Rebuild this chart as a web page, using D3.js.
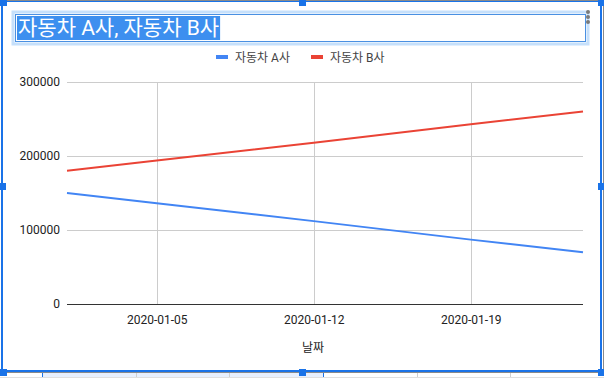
<!DOCTYPE html>
<html>
<head>
<meta charset="utf-8">
<script src="https://d3js.org/d3.v7.min.js"></script>
<style>
  body { margin: 0; background: #fff; }
  svg { display: block; font-family: Roboto, "Noto Sans CJK KR", sans-serif; }
</style>
</head>
<body>
<svg id="chart"></svg>
<script>
const width = 604;
const height = 378;

// data
const dates = ["2020-01-01", "2020-01-05", "2020-01-12", "2020-01-19", "2020-01-24"];
const seriesA = [150000, 136000, 112000, 87000, 70000];
const seriesB = [180000, 194000, 218000, 243000, 260000];
const seriesNames = ["자동차 A사", "자동차 B사"];
const seriesColors = ["#4285f4", "#ea4335"];
const yTicks = [0, 100000, 200000, 300000];
const xTicks = ["2020-01-05", "2020-01-12", "2020-01-19"];
const title = "자동차 A사, 자동차 B사";
const xTitle = "날짜";

const parse = d3.timeParse("%Y-%m-%d");
const fmt = d3.timeFormat("%Y-%m-%d");

const svg = d3.select("#chart").attr("width", width).attr("height", height);

const plot = { left: 67, right: 583, top: 82, bottom: 304 };

const x = d3.scaleTime()
    .domain([parse(dates[0]), parse(dates[dates.length - 1])])
    .range([plot.left, plot.right]);
const y = d3.scaleLinear()
    .domain([0, 300000])
    .range([plot.bottom, plot.top]);

// spreadsheet cells peeking below the chart
const cellEdges = [42, 136, 229, 323, 417, 510];
svg.append("rect").attr("x", 42).attr("y", 373).attr("width", 281).attr("height", 5).attr("fill", "#e8f0fe");
cellEdges.forEach(cx => {
    svg.append("line").attr("x1", cx + 0.5).attr("x2", cx + 0.5).attr("y1", 373).attr("y2", 378)
        .attr("stroke", cx === 42 || cx === 323 ? "#1a73e8" : "#d0d0d0");
});
svg.append("line").attr("x1", 0).attr("x2", width).attr("y1", 377.5).attr("y2", 377.5).attr("stroke", "#e0e0e0");

// title box (selected text)
svg.append("rect").attr("x", 13).attr("y", 12).attr("width", 575).attr("height", 32)
    .attr("fill", "none").attr("stroke", "#c6e0fb").attr("stroke-width", 3);
svg.append("rect").attr("x", 15.5).attr("y", 14.5).attr("width", 570).attr("height", 27)
    .attr("fill", "#fff").attr("stroke", "#4a90e2").attr("stroke-width", 1);
const titleText = svg.append("text")
    .attr("x", 18).attr("y", 35)
    .attr("font-size", 21).attr("fill", "#fff")
    .text(title);
const tw = titleText.node().getComputedTextLength();
svg.insert("rect", "text").attr("x", 17).attr("y", 16).attr("width", tw + 2).attr("height", 24).attr("fill", "#3d8fef");

// three-dot menu
[12, 17, 22].forEach(cy => {
    svg.append("circle").attr("cx", 588).attr("cy", cy).attr("r", 2).attr("fill", "#7a7a7a");
});

// legend
const legend = svg.append("g").attr("font-size", 12).attr("fill", "#222");
const legendX = [216, 311];
seriesNames.forEach((name, i) => {
    legend.append("rect").attr("x", legendX[i]).attr("y", 55).attr("width", 12).attr("height", 4)
        .attr("fill", seriesColors[i]);
    legend.append("text").attr("x", legendX[i] + 19).attr("y", 61.5).attr("fill", "#444").text(name);
});

// gridlines
svg.append("g")
    .selectAll("line.hgrid")
    .data(yTicks.filter(d => d > 0))
    .enter().append("line")
    .attr("x1", plot.left).attr("x2", plot.right)
    .attr("y1", d => Math.round(y(d)) + 0.5).attr("y2", d => Math.round(y(d)) + 0.5)
    .attr("stroke", "#cccccc");
svg.append("g")
    .selectAll("line.vgrid")
    .data(xTicks)
    .enter().append("line")
    .attr("x1", d => Math.round(x(parse(d))) + 0.5).attr("x2", d => Math.round(x(parse(d))) + 0.5)
    .attr("y1", plot.top).attr("y2", plot.bottom)
    .attr("stroke", "#cccccc");

// y axis labels
const yAxis = svg.append("g")
    .attr("transform", `translate(${plot.left},0)`)
    .call(d3.axisLeft(y).tickValues(yTicks).tickSize(0).tickPadding(7).tickFormat(d3.format("d")));
yAxis.select(".domain").remove();
yAxis.selectAll("text").attr("font-size", 12).attr("fill", "#222").attr("font-family", "Roboto, sans-serif");

// x axis labels
const xAxis = svg.append("g")
    .attr("transform", `translate(0,${plot.bottom})`)
    .call(d3.axisBottom(x).tickValues(xTicks.map(parse)).tickSize(0).tickPadding(11).tickFormat(fmt));
xAxis.select(".domain").remove();
xAxis.selectAll("text").attr("font-size", 12).attr("fill", "#222").attr("font-family", "Roboto, sans-serif");

// baseline
svg.append("line").attr("x1", plot.left).attr("x2", plot.right)
    .attr("y1", Math.round(y(0)) + 0.5).attr("y2", Math.round(y(0)) + 0.5)
    .attr("stroke", "#333");

// lines
const line = d3.line().x(d => x(d[0])).y(d => y(d[1]));
[seriesA, seriesB].forEach((vals, i) => {
    svg.append("path")
        .datum(dates.map((d, j) => [parse(d), vals[j]]))
        .attr("d", line)
        .attr("fill", "none")
        .attr("stroke", seriesColors[i])
        .attr("stroke-width", 2);
});

// x axis title
svg.append("text").attr("x", (plot.left + plot.right) / 2 - 12).attr("y", 352)
    .attr("text-anchor", "middle").attr("font-size", 12).attr("fill", "#222").text(xTitle);

// selection frame + handles
const frame = svg.append("g");
frame.append("line").attr("x1", 0).attr("x2", width).attr("y1", 0.5).attr("y2", 0.5).attr("stroke", "#8a8a8a");
frame.append("line").attr("x1", 0).attr("x2", width).attr("y1", 1.5).attr("y2", 1.5).attr("stroke", "#1a73e8");
frame.append("line").attr("x1", 2).attr("x2", 2).attr("y1", 0).attr("y2", 372).attr("stroke", "#1a73e8").attr("stroke-width", 2);
frame.append("line").attr("x1", 601).attr("x2", 601).attr("y1", 0).attr("y2", 372).attr("stroke", "#1a73e8").attr("stroke-width", 2);
frame.append("line").attr("x1", 603.5).attr("x2", 603.5).attr("y1", 0).attr("y2", 372).attr("stroke", "#8a8a8a");
frame.append("line").attr("x1", 0).attr("x2", width).attr("y1", 371).attr("y2", 371).attr("stroke", "#1a73e8").attr("stroke-width", 2);
frame.append("line").attr("x1", 0).attr("x2", width).attr("y1", 372.5).attr("y2", 372.5).attr("stroke", "#8a8a8a");
const handles = [[0, -1], [299, -1], [598, -1], [-1, 183], [598, 183], [0, 369], [299, 369], [598, 369]];
handles.forEach(([hx, hy]) => {
    frame.append("rect").attr("x", hx).attr("y", hy).attr("width", 7).attr("height", 7).attr("fill", "#1a73e8");
});
</script>
</body>
</html>
